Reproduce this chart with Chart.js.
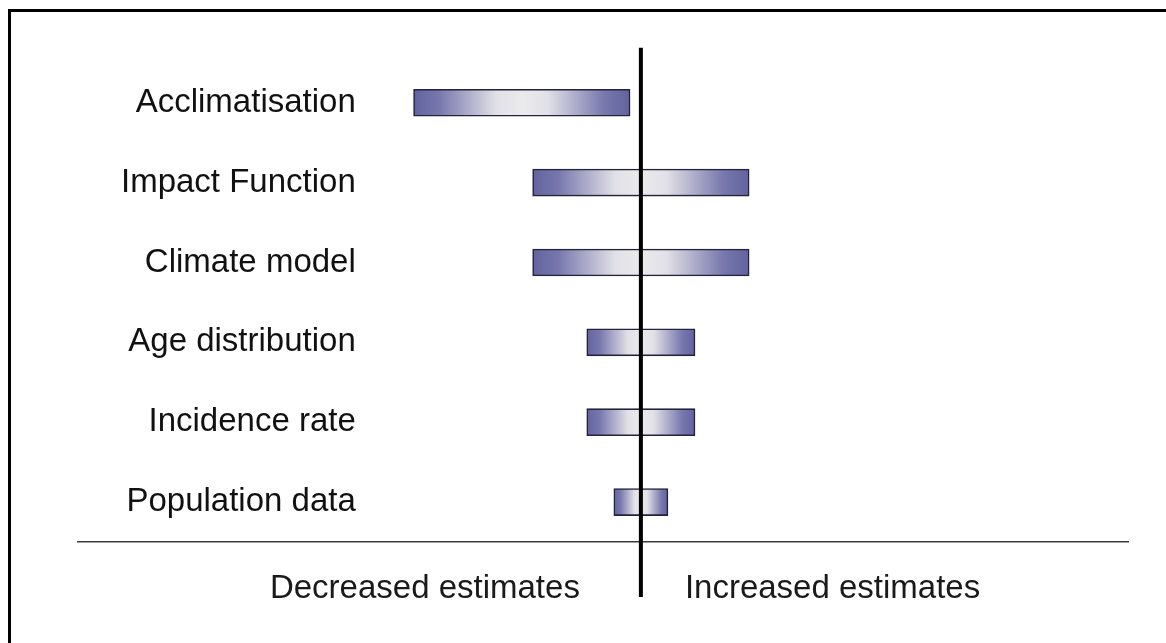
<!DOCTYPE html>
<html>
<head>
<meta charset="utf-8">
<script src="https://cdn.jsdelivr.net/npm/chart.js@4.4.1/dist/chart.umd.min.js"></script>
<style>
  html, body { margin: 0; padding: 0; background: #fff; }
  #wrap { position: relative; width: 1166px; height: 643px; overflow: hidden; }
  #frame { position: absolute; left: 8px; top: 9px; width: 1200px; height: 700px;
           border: 3px solid #000; box-sizing: border-box; pointer-events: none; }
  canvas { position: absolute; left: 0; top: 0; }
</style>
</head>
<body>
<div id="wrap">
  <canvas id="chart" width="1166" height="643"></canvas>
  <div id="frame"></div>
</div>
<script>
// Sources of uncertainty, listed top to bottom
const categories = [
  'Acclimatisation',
  'Impact Function',
  'Climate model',
  'Age distribution',
  'Incidence rate',
  'Population data'
];
// Low end of each range (relative change in the estimate)
const lowValues  = [-42, -20, -20, -10, -10, -5];
// High end of each range
const highValues = [ -2,  20,  20,  10,  10,  5];

const sideLabels = ['Decreased estimates', 'Increased estimates'];

const ranges = categories.map((c, i) => [lowValues[i], highValues[i]]);

const FONT = '"Liberation Sans", Arial, Helvetica, sans-serif';

// Dark edges fading to a pale centre along each bar
function barGradient(context) {
  const chart = context.chart;
  const xs = chart.scales.x;
  const v = context.raw;
  if (!xs || !Array.isArray(v)) return '#8a8ab8';
  const x0 = xs.getPixelForValue(v[0]);
  const x1 = xs.getPixelForValue(v[1]);
  if (!isFinite(x0) || !isFinite(x1) || x0 === x1) return '#8a8ab8';
  const g = chart.ctx.createLinearGradient(x0, 0, x1, 0);
  g.addColorStop(0.00, '#62629f');
  g.addColorStop(0.12, '#7878ae');
  g.addColorStop(0.38, '#e0e0e6');
  g.addColorStop(0.50, '#ebebee');
  g.addColorStop(0.62, '#e0e0e6');
  g.addColorStop(0.88, '#7878ae');
  g.addColorStop(1.00, '#62629f');
  return g;
}

// Zero line across the plot plus the two direction captions
const centreLine = {
  id: 'centreLine',
  afterDatasetsDraw(chart) {
    const { ctx, chartArea, scales } = chart;
    const x0 = scales.x.getPixelForValue(0);
    ctx.save();
    ctx.strokeStyle = '#000';
    ctx.lineWidth = 4;
    ctx.beginPath();
    ctx.moveTo(x0, chartArea.top - 15);
    ctx.lineTo(x0, chartArea.bottom + 55);
    ctx.stroke();

    ctx.fillStyle = '#1a1a1a';
    ctx.font = '33px ' + FONT;
    ctx.textBaseline = 'middle';
    const y = chartArea.bottom + 47;
    ctx.textAlign = 'right';
    ctx.fillText(sideLabels[0], x0 - 61, y);
    ctx.textAlign = 'left';
    ctx.fillText(sideLabels[1], x0 + 44, y);
    ctx.restore();
  }
};

new Chart(document.getElementById('chart'), {
  type: 'bar',
  data: {
    labels: categories,
    datasets: [{
      data: ranges,
      backgroundColor: barGradient,
      borderColor: '#23233a',
      borderWidth: 1.6,
      borderSkipped: false,
      barThickness: 27
    }]
  },
  options: {
    indexAxis: 'y',
    responsive: false,
    animation: false,
    events: [],
    layout: { padding: { left: 78, right: 38, top: 62, bottom: 101 } },
    plugins: { legend: { display: false }, tooltip: { enabled: false } },
    scales: {
      x: {
        min: -104,
        max: 90,
        grid: { display: false, drawTicks: false },
        ticks: { display: false },
        border: { display: true, color: '#3c3c3c', width: 1.5 }
      },
      y: {
        position: 'left',
        grid: { display: false, drawTicks: false },
        border: { display: false },
        // labels sit inside the plot, so the axis itself takes no room
        afterFit(scale) { scale.width = 0; },
        ticks: {
          mirror: true,
          crossAlign: 'far',
          padding: 43,
          color: '#111',
          font: { family: FONT, size: 33 }
        }
      }
    }
  },
  plugins: [centreLine]
});
</script>
</body>
</html>
